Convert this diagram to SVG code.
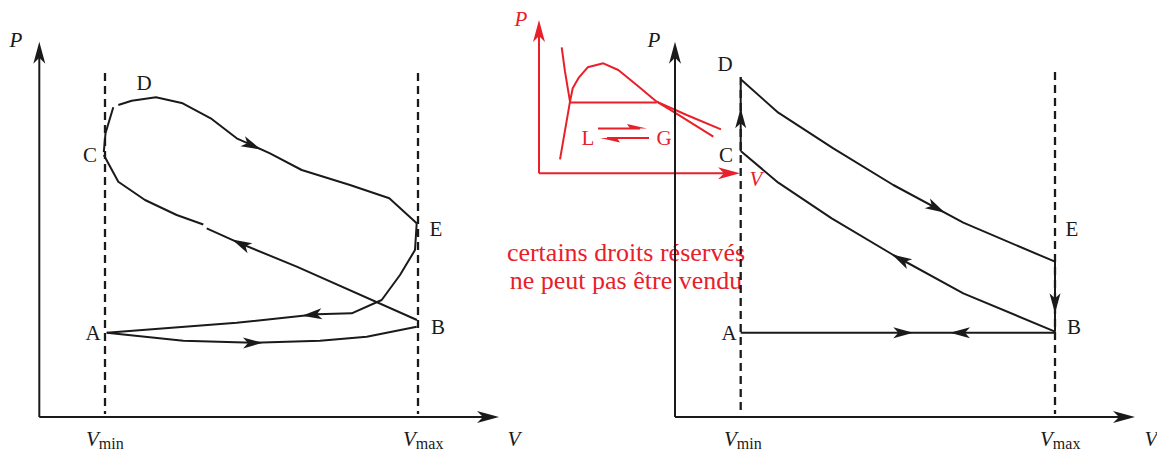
<svg xmlns="http://www.w3.org/2000/svg" xmlns:xlink="http://www.w3.org/1999/xlink" width="1157" height="453" viewBox="0 0 1157 453">
<style>
.k{fill:none;stroke:#1a1a1a;stroke-width:2;stroke-linejoin:round}
.d{fill:none;stroke:#1a1a1a;stroke-width:2.3;stroke-dasharray:8 5}
.r{fill:none;stroke:#e8202a;stroke-width:2;stroke-linejoin:round}
.ah{fill:#1a1a1a}
.rh{fill:#e8202a}
.t{font-family:"Liberation Serif","Times New Roman",serif;font-size:21px;fill:#1a1a1a}
.i{font-style:italic}
.s{font-size:16px;font-style:normal}
.rt{font-family:"Liberation Serif","Times New Roman",serif;fill:#e8202a}
</style>
<defs>
<path id="a" d="M0,0 L-20,-5.5 L-15,0 L-20,5.5 Z"/>
<path id="ax" d="M0,0 L-22,-6 L-16,0 L-22,6 Z"/>
</defs>

<g id="inset">
<path class="r" d="M539,173.3 V28"/>
<path class="r" d="M539,173.3 H732"/>
<use xlink:href="#ax" class="rh" transform="translate(539,20) rotate(-90)"/>
<use xlink:href="#ax" class="rh" transform="translate(740,173.3)"/>
<path class="r" d="M561.7,47.3 L565,71.7 L570,101.7 L560,159.3"/>
<path class="r" d="M570,101.7 L572.7,88.3 L579,77.3 L587.7,67.3 L603.3,63.3 L618.3,70 L636.7,85 L656.7,101.7 L673.3,111.7 L713.3,136.7"/>
<path class="r" d="M656.7,101.7 L686.7,115 L721,129.3"/>
<path class="r" d="M570,102.5 H656.7"/>
<path class="r" d="M598,128.5 H640"/>
<path class="rh" d="M647,128.5 L627,124 L630,128.5 Z"/>
<path class="r" d="M607,138 H649"/>
<path class="rh" d="M600,138 L620,142.5 L617,138 Z"/>
<text class="rt" x="588" y="144.5" font-size="21" text-anchor="middle">L</text>
<text class="rt" x="664" y="144.5" font-size="21" text-anchor="middle">G</text>
<text class="rt" x="521" y="26" font-size="21" font-style="italic" text-anchor="middle">P</text>
<text class="rt" x="756" y="186" font-size="21" font-style="italic" text-anchor="middle">V</text>
</g>

<g id="watermark">
<text class="rt" x="626" y="261" font-size="26" text-anchor="middle">certains droits réservés</text>
<text class="rt" x="626" y="289" font-size="26" text-anchor="middle">ne peut pas être vendu</text>
</g>

<g id="left-axes">
<path class="k" d="M39.3,417 V50"/>
<path class="k" d="M39.3,417 H490"/>
<use xlink:href="#ax" class="ah" transform="translate(39.3,41.7) rotate(-90)"/>
<use xlink:href="#ax" class="ah" transform="translate(499,417)"/>
<path class="d" d="M105,73 V414"/>
<path class="d" d="M418,73 V414"/>
<text class="t i" x="16" y="47" text-anchor="middle">P</text>
<text class="t i" x="514" y="446" text-anchor="middle">V</text>
<text class="t i" x="86" y="446">V<tspan class="s" dy="3">min</tspan></text>
<text class="t i" x="403" y="446">V<tspan class="s" dy="3">max</tspan></text>
</g>

<g id="left-nodes">
<g id="L-A"><text class="t" x="93" y="340" text-anchor="middle">A</text></g>
<g id="L-B"><text class="t" x="438" y="334" text-anchor="middle">B</text></g>
<g id="L-C"><text class="t" x="90" y="162" text-anchor="middle">C</text></g>
<g id="L-D"><text class="t" x="144" y="90" text-anchor="middle">D</text></g>
<g id="L-E"><text class="t" x="436" y="236" text-anchor="middle">E</text></g>
</g>

<g id="left-connectors">
<path class="k" d="M113.3,107.3 L105.5,133.3 L103.8,152"/>
<path class="k" d="M118.3,105 L131.7,100.7 L156,97.3 L182.7,103.3 L210.7,118.3 L236.7,138.3 L270,153.3 L301.7,170 L350,185 L389.3,198.3 L416.7,223.3"/>
<path class="k" d="M416.7,223.3 L415,250 L400,275 L381.7,300 L351.7,313.3 L316.7,314.3 L236.7,322.7 L106.7,332.7"/>
<path class="k" d="M106.7,332.7 L183.3,340.7 L253.3,342.7 L320,340.7 L366.7,336.7 L416.7,326.7"/>
<path class="k" d="M417,320 L296.7,266.7 L240,243.3 L206.7,228.3"/>
<path class="k" d="M203.3,224.5 L176.7,215 L145,200 L118.3,181.7 L103.8,155"/>
<use xlink:href="#a" class="ah" transform="translate(261,149.5) rotate(24.2)"/>
<use xlink:href="#a" class="ah" transform="translate(302,315.8) rotate(174)"/>
<use xlink:href="#a" class="ah" transform="translate(263,342.7) rotate(-1)"/>
<use xlink:href="#a" class="ah" transform="translate(232,239.5) rotate(-154)"/>
</g>

<g id="right-axes">
<path class="k" d="M675,417 V50"/>
<path class="k" d="M675,417 H1126"/>
<use xlink:href="#ax" class="ah" transform="translate(675,41.7) rotate(-90)"/>
<use xlink:href="#ax" class="ah" transform="translate(1135,417)"/>
<path class="d" d="M740.7,77 V414"/>
<path class="d" d="M1055,72 V414"/>
<text class="t i" x="654" y="47" text-anchor="middle">P</text>
<text class="t i" x="1151" y="446" text-anchor="middle">V</text>
<text class="t i" x="724" y="446">V<tspan class="s" dy="3">min</tspan></text>
<text class="t i" x="1040" y="446">V<tspan class="s" dy="3">max</tspan></text>
</g>

<g id="right-nodes">
<g id="R-A"><text class="t" x="729" y="340" text-anchor="middle">A</text></g>
<g id="R-B"><text class="t" x="1074" y="334" text-anchor="middle">B</text></g>
<g id="R-C"><text class="t" x="726" y="162" text-anchor="middle">C</text></g>
<g id="R-D"><text class="t" x="725" y="71" text-anchor="middle">D</text></g>
<g id="R-E"><text class="t" x="1072" y="236" text-anchor="middle">E</text></g>
</g>

<g id="right-connectors">
<path class="k" d="M740.7,79.3 L778.3,112.7 L833.3,148.3 L893.3,185 L963.3,222.7 L1055,261.7"/>
<path class="k" d="M1055,261.7 V331.7"/>
<path class="k" d="M1055,331.7 L963.3,293.3 L893.3,255 L831.7,218.3 L778.3,182.7 L740.7,151"/>
<path class="k" d="M740.7,151 V85"/>
<path class="k" d="M740.7,332.7 H1055"/>
<use xlink:href="#a" class="ah" transform="translate(945,212.8) rotate(28.3)"/>
<use xlink:href="#a" class="ah" transform="translate(1055,313.3) rotate(90)"/>
<use xlink:href="#a" class="ah" transform="translate(892,254.5) rotate(-151.3)"/>
<use xlink:href="#a" class="ah" transform="translate(740.7,108.3) rotate(-90)"/>
<use xlink:href="#a" class="ah" transform="translate(913.3,332.7)"/>
<use xlink:href="#a" class="ah" transform="translate(950,332.7) rotate(180)"/>
</g>
</svg>
